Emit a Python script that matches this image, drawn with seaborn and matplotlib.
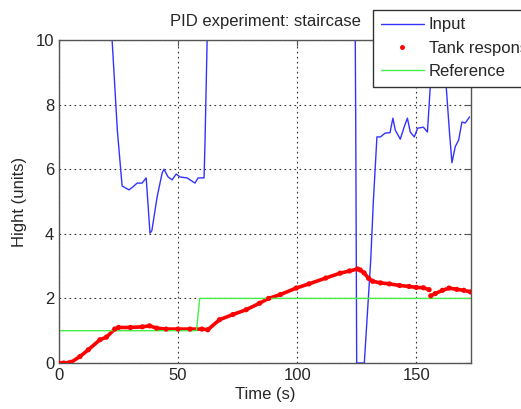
import numpy as np
import pandas as pd
import matplotlib
matplotlib.use('Agg')
import matplotlib.pyplot as plt
import seaborn as sns
from matplotlib.lines import Line2D

# Input signal (clipped at 10 by the axis)
input_t = [0, 22.3, 24.5, 26.5, 29.4, 31, 32.8, 34.9, 36.6, 37.3, 38.2, 39, 41.2, 43.3, 44.1,
           45.8, 47.5, 49.2, 50.8, 53.8, 57.1, 58.4, 60.9, 61.3, 62.2, 124.4, 124.6, 125,
           128.2, 130.9, 132, 132.8, 133.5, 135, 137, 139, 140.2, 141.2, 143.3, 144.9, 146.3,
           147.5, 149.2, 150.6, 153, 154.7, 155.9, 157, 161.5, 162.6, 164, 165, 166.4, 167.8,
           169.2, 170.6, 172.4]
input_y = [10, 10, 7.2, 5.48, 5.36, 5.45, 5.57, 5.57, 5.73, 5.0, 4.02, 4.1, 5.14, 5.88, 6.0,
           5.76, 5.67, 5.85, 5.76, 5.73, 5.57, 5.73, 5.73, 6.8, 10, 10, 7.5, 0,
           0, 3.2, 5.0, 6.07, 7.0, 7.0, 7.12, 7.13, 7.58, 7.21, 6.93, 7.3, 7.58,
           7.15, 7.0, 7.27, 7.3, 7.15, 8.55, 10, 10, 8.55, 7.1, 6.2, 6.7, 6.9,
           7.46, 7.43, 7.62]

# Tank response (two pieces, there is a small gap near t=156)
tank_t = [0, 2, 4, 5, 8.8, 12.3, 17.2, 19.9, 23.4, 25, 30, 35, 38, 41, 45, 50, 55, 60, 62.5,
          67.4, 73, 78.6, 84.2, 88, 93, 99.6, 105, 112, 118, 122, 125.4, 126.5, 128.1, 130,
          131.7, 135, 138.7, 143, 147, 150, 153, 155.4,
          156.1, 158, 161, 163.8, 167, 170, 172.8]
tank_y = [0, 0, 0, 0.02, 0.2, 0.41, 0.72, 0.8, 1.05, 1.1, 1.1, 1.12, 1.15, 1.08, 1.05, 1.05, 1.05, 1.05, 1.03,
          1.34, 1.5, 1.65, 1.85, 2.0, 2.12, 2.32, 2.45, 2.63, 2.78, 2.85, 2.91, 2.88, 2.79, 2.62,
          2.53, 2.48, 2.45, 2.4, 2.37, 2.34, 2.33, 2.27,
          2.08, 2.15, 2.25, 2.32, 2.28, 2.25, 2.2]
tank_seg = [0] * 42 + [1] * 7

# Reference staircase
ref_t = [0, 57.7, 59.1, 173]
ref_y = [1, 1, 2, 2]

sns.set_style('white')
plt.rcParams['font.family'] = ['Liberation Sans', 'DejaVu Sans']
plt.rcParams['font.size'] = 12

fig = plt.figure(figsize=(5.21, 4.09), dpi=100)
ax = fig.add_axes([59 / 521, 1 - 363 / 409, 412 / 521, 323 / 409])

df_in = pd.DataFrame({'t': input_t, 'y': input_y})
df_tank = pd.DataFrame({'t': tank_t, 'y': tank_y, 'seg': tank_seg})
df_ref = pd.DataFrame({'t': ref_t, 'y': ref_y})

sns.lineplot(data=df_in, x='t', y='y', ax=ax, color='#3333ff', lw=1.0,
             estimator=None, sort=False)
sns.lineplot(data=df_tank, x='t', y='y', units='seg', ax=ax, color='#ff0000', lw=2.6,
             estimator=None, sort=False)
sns.scatterplot(data=df_tank, x='t', y='y', ax=ax, color='#ff0000', s=14,
                edgecolor='none', zorder=3)
sns.lineplot(data=df_ref, x='t', y='y', ax=ax, color='#44ee44', lw=1.0,
             estimator=None, sort=False)

ax.set_xlim(0, 173)
ax.set_ylim(0, 10)
ax.set_xticks([0, 50, 100, 150])
ax.set_yticks([0, 2, 4, 6, 8, 10])
ax.grid(True, linestyle=(0, (1.5, 3)), color='#333333', lw=0.8)
ax.tick_params(direction='in', top=True, right=True, length=4, labelsize=12, color='#555555')
for s in ax.spines.values():
    s.set_color('#555555')
    s.set_linewidth(1.0)

ax.set_title('PID experiment: staircase', fontsize=12, pad=10)
ax.set_xlabel('Time (s)', fontsize=12, labelpad=3)
ax.set_ylabel('Hight (units)', fontsize=12, labelpad=6)

handles = [Line2D([], [], color='#3333ff', lw=1.0),
           Line2D([], [], color='#ff0000', marker='.', ls='none', markersize=5),
           Line2D([], [], color='#44ee44', lw=1.0)]
leg = ax.legend(handles, ['Input', 'Tank response', 'Reference'],
                loc='upper left', bbox_to_anchor=((373 - 59) / 412, (363 - 10) / 323),
                frameon=True, fancybox=False, framealpha=1, edgecolor='#333333',
                fontsize=12, handlelength=2.6, handletextpad=0.3, borderpad=0.45,
                labelspacing=0.5, borderaxespad=0)
leg.get_frame().set_linewidth(1.0)

fig.savefig('out.png', dpi=100)
